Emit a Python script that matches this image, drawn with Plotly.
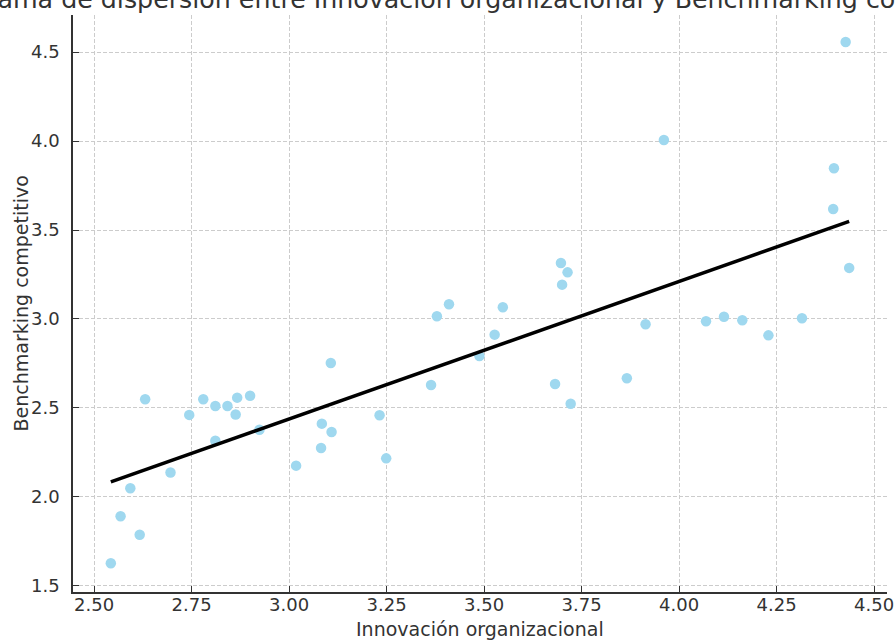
import numpy as np
import plotly.graph_objects as go

# Data
innovacion = [2.543, 2.568, 2.593, 2.617, 2.631, 2.696, 2.744, 2.780, 2.811, 2.811,
              2.842, 2.863, 2.867, 2.900, 2.924, 3.018, 3.082, 3.084, 3.107, 3.109,
              3.232, 3.249, 3.364, 3.379, 3.410, 3.488, 3.527, 3.548, 3.682, 3.697,
              3.700, 3.714, 3.722, 3.866, 3.914, 3.961, 4.069, 4.115, 4.162, 4.229,
              4.315, 4.395, 4.397, 4.427, 4.436]
benchmarking = [1.628, 1.892, 2.049, 1.788, 2.549, 2.137, 2.461, 2.549, 2.511, 2.316,
                2.511, 2.463, 2.558, 2.569, 2.378, 2.176, 2.275, 2.412, 2.753, 2.365,
                2.459, 2.217, 2.629, 3.015, 3.083, 2.792, 2.912, 3.066, 2.635, 3.315,
                3.193, 3.262, 2.524, 2.667, 2.970, 4.006, 2.987, 3.013, 2.993, 2.908,
                3.004, 3.618, 3.847, 4.556, 3.287]

x_ticks = [2.50, 2.75, 3.00, 3.25, 3.50, 3.75, 4.00, 4.25, 4.50]
x_tick_labels = ["2.50", "2.75", "3.00", "3.25", "3.50", "3.75", "4.00", "4.25", "4.50"]
y_ticks = [1.5, 2.0, 2.5, 3.0, 3.5, 4.0, 4.5]
y_tick_labels = ["1.5", "2.0", "2.5", "3.0", "3.5", "4.0", "4.5"]

title_text = "Diagrama de dispersión entre Innovación organizacional y Benchmarking competitivo"
x_label = "Innovación organizacional"
y_label = "Benchmarking competitivo"

# Linear regression line over the data range
xa = np.array(innovacion)
ya = np.array(benchmarking)
m, b = np.polyfit(xa, ya, 1)
x_line = [xa.min(), xa.max()]
y_line = [m * v + b for v in x_line]

FONT = "DejaVu Sans"
TXT = "#333333"

fig = go.Figure()
fig.add_trace(go.Scatter(
    x=innovacion, y=benchmarking, mode="markers",
    marker=dict(size=10.5, color="#9fd8ef", line=dict(width=0)),
    showlegend=False, hoverinfo="skip"))
fig.add_trace(go.Scatter(
    x=x_line, y=y_line, mode="lines",
    line=dict(color="black", width=3.5),
    showlegend=False, hoverinfo="skip"))

axis_common = dict(
    showgrid=True, gridcolor="#cccccc", gridwidth=1, griddash="4px,2px",
    zeroline=False, showline=True, linecolor="#333333", linewidth=1.5,
    ticks="inside", ticklen=6, tickwidth=1.2, tickcolor="#333333",
    tickfont=dict(family=FONT, size=18, color=TXT),
    mirror=False, automargin=False,
)

fig.update_layout(
    width=896, height=640,
    margin=dict(l=73, r=9, t=15, b=48),
    paper_bgcolor="white", plot_bgcolor="white",
    font=dict(family=FONT, color=TXT),
    xaxis=dict(range=[2.446, 4.533], tickvals=x_ticks, ticktext=x_tick_labels,
               ticklabelstandoff=-4, **axis_common),
    yaxis=dict(range=[1.466, 4.708], tickvals=y_ticks, ticktext=y_tick_labels,
               ticklabelstandoff=8, **axis_common),
    annotations=[
        dict(text=title_text, xref="paper", yref="paper", x=0.5, y=1.0,
             xanchor="center", yanchor="bottom", showarrow=False, yshift=-1, xshift=-8,
             font=dict(family=FONT, size=25.3, color=TXT)),
        dict(text=x_label, xref="paper", yref="paper", x=0.5, y=0,
             xanchor="center", yanchor="middle", showarrow=False, yshift=-37,
             font=dict(family=FONT, size=19, color=TXT)),
        dict(text=y_label, xref="paper", yref="paper", x=0, y=0.5,
             xanchor="center", yanchor="middle", showarrow=False, xshift=-53,
             textangle=-90, font=dict(family=FONT, size=19, color=TXT)),
    ],
)

fig.write_html("out.html")
